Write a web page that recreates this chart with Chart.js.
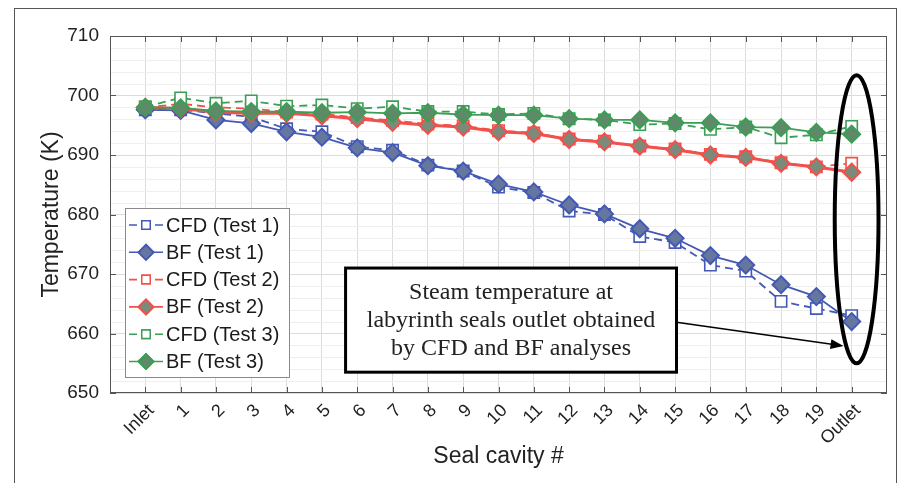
<!DOCTYPE html>
<html>
<head>
<meta charset="utf-8">
<title>Seal cavity temperature</title>
<script src="https://cdn.jsdelivr.net/npm/chart.js@4.4.1/dist/chart.umd.min.js"></script>
<style>
  html, body { margin: 0; padding: 0; background: #fff; }
  #wrap { position: relative; width: 904px; height: 483px; }
  #frame {
    position: absolute; left: 14px; top: 8px; width: 883px; height: 480px;
    border: 1.5px solid #555; border-bottom: none; box-sizing: border-box;
    pointer-events: none;
  }
</style>
</head>
<body>
<div id="wrap">
  <canvas id="chart" width="904" height="483"></canvas>
  <div id="frame"></div>
</div>
<script>
// categories along the x axis
const xLabels = ["Inlet", "1", "2", "3", "4", "5", "6", "7", "8", "9", "10",
  "11", "12", "13", "14", "15", "16", "17", "18", "19", "Outlet"];
const yTickValues = [650, 660, 670, 680, 690, 700, 710];

// temperatures (K)
const cfdTest1 = [697.6, 697.6, 697.0, 696.4, 694.4, 693.9, 691.4, 690.8, 688.3, 687.3, 684.6,
  683.7, 680.6, 680.0, 676.3, 675.3, 671.5, 670.5, 665.4, 664.2, 663.0];
const bfTest1 = [697.6, 697.5, 695.9, 695.3, 693.9, 693.0, 691.2, 690.4, 688.2, 687.3, 685.1,
  683.8, 681.6, 680.1, 677.6, 676.0, 673.1, 671.5, 668.2, 666.2, 662.0];
const cfdTest2 = [698.0, 698.6, 698.0, 697.8, 697.2, 696.9, 696.3, 695.8, 695.2, 694.9, 694.1,
  693.7, 692.7, 692.3, 691.5, 691.0, 690.1, 689.7, 688.7, 688.0, 688.6];
const bfTest2 = [698.0, 697.8, 697.2, 697.0, 697.0, 696.6, 696.1, 695.5, 695.0, 694.7, 693.9,
  693.6, 692.6, 692.2, 691.5, 690.9, 690.0, 689.6, 688.6, 688.0, 687.1];
const cfdTest3 = [698.1, 699.6, 698.7, 699.1, 698.2, 698.4, 697.8, 698.1, 697.3, 697.3, 696.8,
  697.0, 696.1, 695.9, 695.1, 695.3, 694.3, 694.7, 692.9, 693.4, 694.8];
const bfTest3 = [698.0, 697.9, 697.4, 697.3, 697.3, 697.1, 697.2, 697.0, 697.1, 696.8, 696.7,
  696.7, 696.1, 695.9, 695.9, 695.4, 695.4, 694.7, 694.6, 693.8, 693.5];

const noteLines = ["Steam temperature at", "labyrinth seals outlet obtained", "by CFD and BF analyses"];

const BLUE = "#4459b4", RED = "#f2504a", GREEN = "#3b9e55";

function toPoints(vals) {
  return vals.map((v, i) => ({ x: i, y: v }));
}

function cfdSet(label, vals, color, order) {
  return {
    label: label, data: toPoints(vals), order: order,
    borderColor: color, borderWidth: 1.8, borderDash: [8, 5],
    pointStyle: "rect", pointRadius: 8, pointBorderWidth: 1.6,
    pointBackgroundColor: "#ffffff", pointBorderColor: color, fill: false, tension: 0
  };
}

function bfSet(label, vals, color, fillColor, order, width) {
  return {
    label: label, data: toPoints(vals), order: order,
    borderColor: color, borderWidth: width,
    pointStyle: "rectRot", pointRadius: 8.5, pointBorderWidth: 2,
    pointBackgroundColor: fillColor, pointBorderColor: color, fill: false, tension: 0
  };
}

// box, inside ticks, minor grid, legend and the callout
const decorPlugin = {
  id: "decor",
  beforeDatasetsDraw(chart) {
    const { ctx, chartArea: a, scales: { y } } = chart;
    ctx.save();
    ctx.strokeStyle = "#efefef";
    ctx.lineWidth = 1;
    for (let v = 652; v < 710; v += 2) {
      if (v % 10 === 0) continue;
      const py = Math.round(y.getPixelForValue(v)) + 0.5;
      ctx.beginPath(); ctx.moveTo(a.left, py); ctx.lineTo(a.right, py); ctx.stroke();
    }
    ctx.restore();
  },
  afterDatasetsDraw(chart) {
    const { ctx, chartArea: a, scales: { x, y } } = chart;
    ctx.save();

    // axes box + inward ticks
    ctx.strokeStyle = "#555";
    ctx.lineWidth = 1;
    ctx.strokeRect(a.left + 0.5, a.top + 0.5, a.right - a.left - 1, a.bottom - a.top - 1);
    ctx.beginPath();
    for (let i = 0; i < xLabels.length; i++) {
      const px = Math.round(x.getPixelForValue(i)) + 0.5;
      ctx.moveTo(px, a.top); ctx.lineTo(px, a.top + 6);
      ctx.moveTo(px, a.bottom); ctx.lineTo(px, a.bottom - 6);
    }
    yTickValues.forEach(function (v) {
      const py = Math.round(y.getPixelForValue(v)) + 0.5;
      ctx.moveTo(a.left, py); ctx.lineTo(a.left + 6, py);
      ctx.moveTo(a.right, py); ctx.lineTo(a.right - 6, py);
    });
    ctx.stroke();

    // legend
    const lx = a.left + 15, ly = a.top + 172, lw = 164, lh = 169;
    ctx.fillStyle = "#fff";
    ctx.fillRect(lx, ly, lw, lh);
    ctx.strokeStyle = "#8a8a8a";
    ctx.lineWidth = 1;
    ctx.strokeRect(lx + 0.5, ly + 0.5, lw, lh);
    ctx.font = "20px 'Liberation Sans', Arial, sans-serif";
    ctx.textBaseline = "middle";
    ctx.textAlign = "left";
    chart.data.datasets.forEach(function (ds, i) {
      const cy = ly + 17 + i * 27.3;
      ctx.strokeStyle = ds.borderColor;
      ctx.lineWidth = 1.6;
      ctx.setLineDash(ds.borderDash || []);
      ctx.beginPath(); ctx.moveTo(lx + 4, cy); ctx.lineTo(lx + 38, cy); ctx.stroke();
      ctx.setLineDash([]);
      ctx.fillStyle = ds.pointBackgroundColor;
      ctx.lineWidth = ds.pointStyle === "rect" ? 1.5 : 1.8;
      Chart.helpers.drawPoint(ctx, {
        pointStyle: ds.pointStyle,
        radius: ds.pointStyle === "rect" ? 6 : 7.5,
        borderWidth: ctx.lineWidth, rotation: 0
      }, lx + 21, cy);
      ctx.fill();
      ctx.stroke();
      ctx.fillStyle = "#1a1a1a";
      ctx.fillText(ds.label, lx + 41, cy + 1);
    });

    // callout box
    const bx1 = x.getPixelForValue(5.67), bx2 = x.getPixelForValue(15.04);
    const by1 = y.getPixelForValue(671.0), by2 = y.getPixelForValue(653.5);
    ctx.fillStyle = "#fff";
    ctx.fillRect(bx1, by1, bx2 - bx1, by2 - by1);
    ctx.strokeStyle = "#000";
    ctx.lineWidth = 3;
    ctx.strokeRect(bx1, by1, bx2 - bx1, by2 - by1);
    ctx.fillStyle = "#222";
    ctx.font = "24px 'Liberation Serif', 'Times New Roman', serif";
    ctx.textAlign = "center";
    noteLines.forEach(function (t, i) {
      ctx.fillText(t, (bx1 + bx2) / 2, by1 + 25 + i * 28);
    });

    // arrow to the outlet
    const ax1 = bx2, ay1 = y.getPixelForValue(661.9);
    const ax2 = x.getPixelForValue(19.77), ay2 = y.getPixelForValue(657.9);
    const ang = Math.atan2(ay2 - ay1, ax2 - ax1);
    ctx.strokeStyle = "#000";
    ctx.lineWidth = 1.5;
    ctx.beginPath(); ctx.moveTo(ax1, ay1);
    ctx.lineTo(ax2 - 10 * Math.cos(ang), ay2 - 10 * Math.sin(ang)); ctx.stroke();
    ctx.fillStyle = "#000";
    ctx.beginPath();
    ctx.moveTo(ax2, ay2);
    ctx.lineTo(ax2 - 13 * Math.cos(ang) + 5 * Math.sin(ang), ay2 - 13 * Math.sin(ang) - 5 * Math.cos(ang));
    ctx.lineTo(ax2 - 13 * Math.cos(ang) - 5 * Math.sin(ang), ay2 - 13 * Math.sin(ang) + 5 * Math.cos(ang));
    ctx.closePath(); ctx.fill();

    // ellipse around the outlet values
    const ex = x.getPixelForValue(20.14), ey = y.getPixelForValue(679.2);
    const rx = x.getPixelForValue(20.76) - ex;
    const ry = y.getPixelForValue(679.2) - y.getPixelForValue(703.4);
    ctx.lineWidth = 4;
    ctx.beginPath(); ctx.ellipse(ex, ey, rx, ry, 0, 0, Math.PI * 2); ctx.stroke();

    ctx.restore();
  }
};

const ctx = document.getElementById("chart").getContext("2d");
new Chart(ctx, {
  type: "line",
  data: {
    datasets: [
      cfdSet("CFD (Test 1)", cfdTest1, BLUE, 6),
      bfSet("BF (Test 1)", bfTest1, BLUE, "#66779f", 5, 1.8),
      cfdSet("CFD (Test 2)", cfdTest2, RED, 4),
      bfSet("BF (Test 2)", bfTest2, RED, "#7c8a7c", 3, 3),
      cfdSet("CFD (Test 3)", cfdTest3, GREEN, 2),
      bfSet("BF (Test 3)", bfTest3, GREEN, "#5f8a6a", 1, 1.8)
    ]
  },
  options: {
    responsive: false,
    animation: false,
    devicePixelRatio: 1,
    layout: { padding: { left: 0, top: 36, right: 17, bottom: 0 } },
    plugins: { legend: { display: false }, tooltip: { enabled: false } },
    scales: {
      x: {
        type: "linear",
        min: -1,
        max: 21,
        afterBuildTicks: function (scale) {
          scale.ticks = xLabels.map((_, i) => ({ value: i }));
        },
        afterFit: function (scale) { scale.height = 90; },
        grid: { color: "#dcdcdc", drawTicks: false },
        border: { display: false },
        ticks: {
          autoSkip: false,
          maxRotation: 45,
          minRotation: 45,
          padding: 7,
          labelOffset: 6,
          color: "#222",
          font: { family: "'Liberation Sans', Arial, sans-serif", size: 18 },
          callback: function (v) { return xLabels[v]; }
        },
        title: {
          display: true,
          text: "Seal cavity #",
          color: "#222",
          font: { family: "'Liberation Sans', Arial, sans-serif", size: 23 },
          padding: { top: 0, bottom: 13 }
        }
      },
      y: {
        min: 650,
        max: 710,
        afterBuildTicks: function (scale) {
          scale.ticks = yTickValues.map(v => ({ value: v }));
        },
        afterFit: function (scale) { scale.width = 110; },
        grid: { color: "#dcdcdc", drawTicks: false },
        border: { display: false },
        ticks: {
          padding: 11,
          color: "#222",
          font: { family: "'Liberation Sans', Arial, sans-serif", size: 19 }
        },
        title: {
          display: true,
          text: "Temperature (K)",
          color: "#222",
          font: { family: "'Liberation Sans', Arial, sans-serif", size: 23 },
          padding: { top: 38, bottom: 0 }
        }
      }
    }
  },
  plugins: [decorPlugin]
});
</script>
</body>
</html>
